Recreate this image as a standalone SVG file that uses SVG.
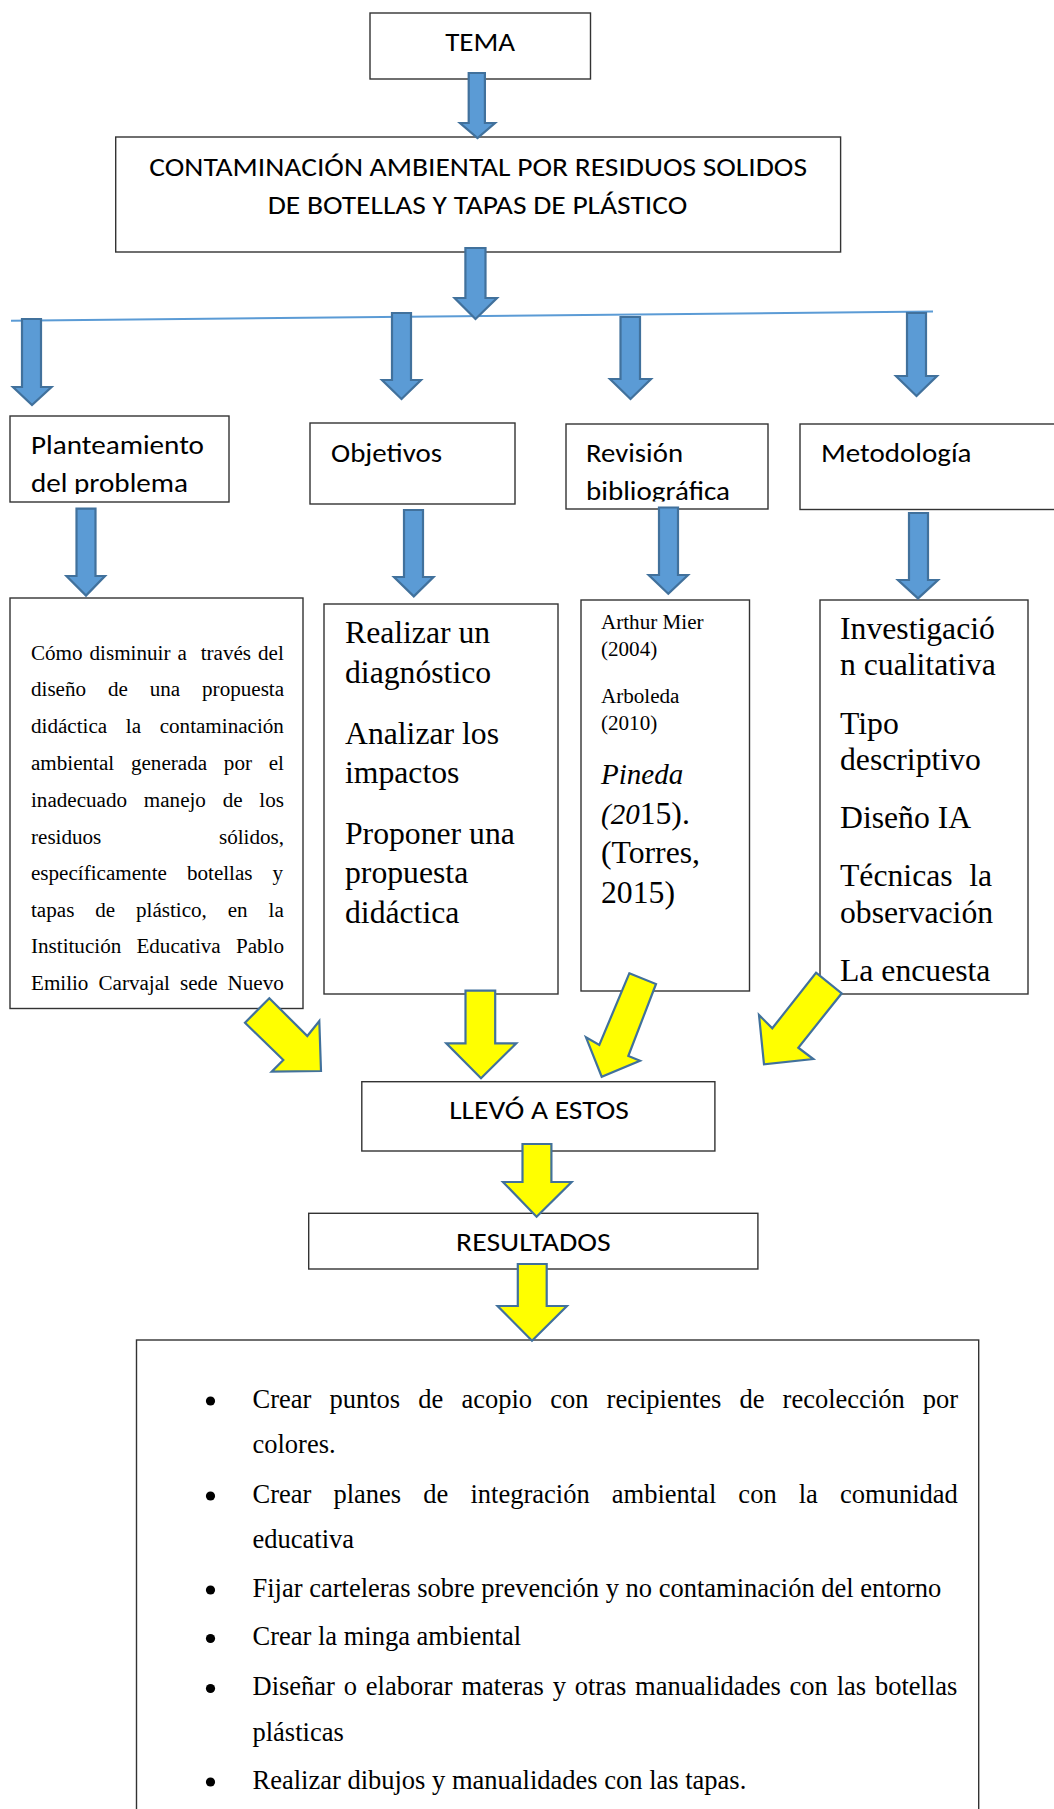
<svg xmlns="http://www.w3.org/2000/svg" width="1054" height="1809" viewBox="0 0 1054 1809">
<style>
.box{fill:#fff;stroke:#333;stroke-width:1.4}
.cal{font-family:Carlito,Lato,"Open Sans",sans-serif;font-size:26px;fill:#000}
.tnr{font-family:"Liberation Serif","Times New Roman",serif;fill:#000}
.blue{fill:#5B9BD5;stroke:#41719C;stroke-width:2.2;stroke-linejoin:miter}
.yel{fill:#FFFF00;stroke:#41719C;stroke-width:2.2;stroke-linejoin:miter}
</style>
<defs>
<clipPath id="clipP1"><rect x="10" y="416" width="219" height="78"/></clipPath>
<clipPath id="clipR1"><rect x="566" y="424" width="202" height="77.5"/></clipPath>
</defs>
<rect width="1054" height="1809" fill="#fff"/>

<g id="tema">
<rect class="box" x="370" y="13" width="220.5" height="66"/>
<text class="cal" x="445.2" y="50.5" textLength="70" lengthAdjust="spacingAndGlyphs">TEMA</text>
</g>

<g id="contaminacion">
<rect class="box" x="115.7" y="137" width="724.9" height="115"/>
<text class="cal" x="149.3" y="175.7" textLength="657.7" lengthAdjust="spacingAndGlyphs">CONTAMINACIÓN AMBIENTAL POR RESIDUOS SOLIDOS</text>
<text class="cal" x="267.7" y="214.3" textLength="419.6" lengthAdjust="spacingAndGlyphs">DE BOTELLAS Y TAPAS DE PLÁSTICO</text>
</g>

<g id="planteamiento">
<rect class="box" x="10" y="416" width="219" height="86"/>
<g clip-path="url(#clipP1)">
<text class="cal" x="31" y="454" textLength="173" lengthAdjust="spacingAndGlyphs">Planteamiento</text>
<text class="cal" x="31" y="492" textLength="157" lengthAdjust="spacingAndGlyphs">del problema</text>
</g>
</g>

<g id="objetivos">
<rect class="box" x="310" y="423" width="205" height="81"/>
<text class="cal" x="331" y="462" textLength="111" lengthAdjust="spacingAndGlyphs">Objetivos</text>
</g>

<g id="revision">
<rect class="box" x="566" y="424" width="202" height="85"/>
<g clip-path="url(#clipR1)">
<text class="cal" x="586" y="462" textLength="97" lengthAdjust="spacingAndGlyphs">Revisión</text>
<text class="cal" x="586" y="500" textLength="144" lengthAdjust="spacingAndGlyphs">bibliográfica</text>
</g>
</g>

<g id="metodologia">
<rect class="box" x="800" y="424" width="262" height="85.5"/>
<text class="cal" x="821" y="462" textLength="150.5" lengthAdjust="spacingAndGlyphs">Metodología</text>
</g>

<g id="problema-texto">
<rect class="box" x="10" y="598" width="293" height="410.5"/>
<g class="tnr" font-size="21.1">
<text x="31" y="659.7" word-spacing="1.7" xml:space="preserve">Cómo disminuir a  través del</text>
<text x="31" y="696.4" word-spacing="16.6">diseño de una propuesta</text>
<text x="31" y="732.8" word-spacing="13.4">didáctica la contaminación</text>
<text x="31" y="769.6" word-spacing="11.5">ambiental generada por el</text>
<text x="31" y="807" word-spacing="11.5">inadecuado manejo de los</text>
<text x="31" y="843.5">residuos</text>
<text x="284" y="843.5" text-anchor="end">sólidos,</text>
<text x="31" y="880" word-spacing="14.8">específicamente botellas y</text>
<text x="31" y="917" word-spacing="15.6">tapas de plástico, en la</text>
<text x="31" y="953" word-spacing="9.9">Institución Educativa Pablo</text>
<text x="31" y="990" word-spacing="4.8">Emilio Carvajal sede Nuevo</text>
</g>
</g>

<g id="objetivos-texto">
<rect class="box" x="324" y="604" width="234" height="390"/>
<g class="tnr" font-size="31.7">
<text x="345" y="643">Realizar un</text>
<text x="345" y="682.6">diagnóstico</text>
<text x="345" y="744">Analizar los</text>
<text x="345" y="782.6">impactos</text>
<text x="345" y="843.5">Proponer una</text>
<text x="345" y="883">propuesta</text>
<text x="345" y="922.5">didáctica</text>
</g>
</g>

<g id="revision-texto">
<rect class="box" x="581" y="600" width="168.5" height="391"/>
<g class="tnr">
<text x="601" y="629" font-size="21.1">Arthur Mier</text>
<text x="601" y="656" font-size="21.1">(2004)</text>
<text x="601" y="703" font-size="21.1">Arboleda</text>
<text x="601" y="730" font-size="21.1">(2010)</text>
<text x="601" y="784" font-size="29" font-style="italic">Pineda</text>
<text x="601" y="823.7" font-size="31.7"><tspan font-style="italic" font-size="29">(20</tspan>15).</text>
<text x="601" y="862.5" font-size="31.7">(Torres,</text>
<text x="601" y="902.8" font-size="31.7">2015)</text>
</g>
</g>

<g id="metodologia-texto">
<rect class="box" x="820" y="600" width="208" height="394"/>
<g class="tnr" font-size="31.7">
<text x="840" y="639">Investigació</text>
<text x="840" y="674.7">n cualitativa</text>
<text x="840" y="734">Tipo</text>
<text x="840" y="769.6">descriptivo</text>
<text x="840" y="828">Diseño IA</text>
<text x="840" y="886">Técnicas</text>
<text x="992" y="886" text-anchor="end">la</text>
<text x="840" y="922.5">observación</text>
<text x="840" y="981">La encuesta</text>
</g>
</g>

<g id="llevo">
<rect class="box" x="361.8" y="1081.7" width="353.1" height="69.3"/>
<text class="cal" x="449.2" y="1119" textLength="179.6" lengthAdjust="spacingAndGlyphs">LLEVÓ A ESTOS</text>
</g>

<g id="resultados">
<rect class="box" x="308.7" y="1213.3" width="449.2" height="55.7"/>
<text class="cal" x="456" y="1250.7" textLength="154.6" lengthAdjust="spacingAndGlyphs">RESULTADOS</text>
</g>

<g id="resultados-lista">
<rect class="box" x="136.5" y="1340" width="842.2" height="490"/>
<g fill="#000">
<circle cx="210.5" cy="1401" r="4.6"/>
<circle cx="210.5" cy="1496" r="4.6"/>
<circle cx="210.5" cy="1590" r="4.6"/>
<circle cx="210.5" cy="1638.5" r="4.6"/>
<circle cx="210.5" cy="1688.5" r="4.6"/>
<circle cx="210.5" cy="1782" r="4.6"/>
</g>
<g class="tnr" font-size="26.5">
<text x="252.5" y="1408" word-spacing="11.5">Crear puntos de acopio con recipientes de recolección por</text>
<text x="252.5" y="1453">colores.</text>
<text x="252.5" y="1502.7" word-spacing="15.5">Crear planes de integración ambiental con la comunidad</text>
<text x="252.5" y="1548">educativa</text>
<text x="252.5" y="1596.7">Fijar carteleras sobre prevención y no contaminación del entorno</text>
<text x="252.5" y="1645">Crear la minga ambiental</text>
<text x="252.5" y="1695" word-spacing="2.2">Diseñar o elaborar materas y otras manualidades con las botellas</text>
<text x="252.5" y="1740.7">plásticas</text>
<text x="252.5" y="1789">Realizar dibujos y manualidades con las tapas.</text>
</g>
</g>

<g id="conectores">
<line x1="11" y1="320.7" x2="933" y2="311.5" stroke="#5B9BD5" stroke-width="2"/>
<polygon class="blue" points="468.7,73 484.9,73 484.9,123 495,123 477.5,138 460,123 468.7,123"/>
<polygon class="blue" points="465.4,248 485.5,248 485.5,298 497,298 475.5,319 454.6,298 465.4,298"/>
<polygon class="blue" points="22,319 41,319 41,387 51.5,387 32,405 13,387 22,387"/>
<polygon class="blue" points="392,313 411,313 411,380 421,380 401.5,399 382,380 392,380"/>
<polygon class="blue" points="620.5,317 640,317 640,379 651,379 630.5,399 610,379 620.5,379"/>
<polygon class="blue" points="907,313 926,313 926,376 937,376 916.5,396 896,376 907,376"/>
<polygon class="blue" points="76.5,508.7 95.5,508.7 95.5,576 105,576 86,595.6 66.5,576 76.5,576"/>
<polygon class="blue" points="404,510 423,510 423,577 433.5,577 413.8,596.4 394,577 404,577"/>
<polygon class="blue" points="659,507.5 678,507.5 678,575 688,575 668.3,593.7 648.7,575 659,575"/>
<polygon class="blue" points="909,513 928,513 928,580 938,580 918,598.4 898,580 909,580"/>
<polygon class="yel" points="269.3,998.3 307.3,1036 319.3,1021 321,1071 271.7,1071.7 283.3,1060 245,1022.7"/>
<polygon class="yel" points="465.5,990.7 495.2,990.7 495.2,1043.3 516.3,1043.3 481,1078.3 446.3,1043.3 465.5,1043.3"/>
<polygon class="yel" points="629.3,973.3 656,984 628.3,1056 640,1060.7 601.7,1076.7 586,1037.3 599.3,1045"/>
<polygon class="yel" points="816,972.7 841.7,993.3 798.3,1047.7 813.3,1059 764,1064.3 759,1015 772.3,1028.3"/>
<polygon class="yel" points="522.5,1144 551.4,1144 551.4,1182 571.6,1182 536.6,1216.7 503,1182 522.5,1182"/>
<polygon class="yel" points="517.8,1264 546.7,1264 546.7,1306 566.9,1306 532,1340.7 497.6,1306 517.8,1306"/>
</g>
</svg>
